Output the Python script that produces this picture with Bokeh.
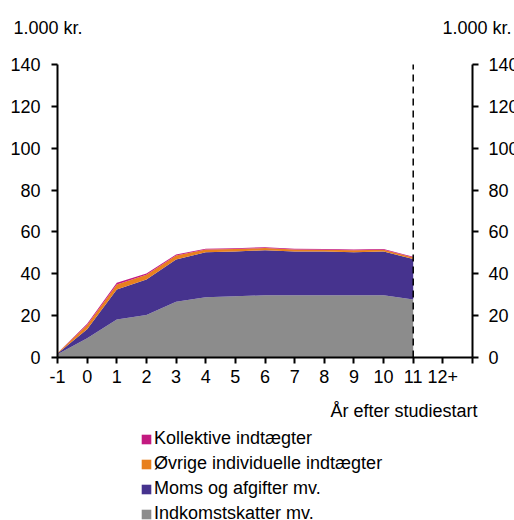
from bokeh.plotting import figure
from bokeh.models import (ColumnDataSource, FixedTicker, LinearAxis, Range1d,
                          Label, Legend, LegendItem)
from bokeh.embed import file_html
from bokeh.resources import INLINE

# ---- data ----
years = [-1, 0, 1, 2, 3, 4, 5, 6, 7, 8, 9, 10, 11]
x_ticks = list(range(-1, 14))
x_tick_labels = ["-1", "0", "1", "2", "3", "4", "5", "6", "7", "8", "9", "10", "11", "12+", ""]
y_ticks = [0, 20, 40, 60, 80, 100, 120, 140]
indkomst = [1.5, 9.2, 18.2, 20.3, 26.6, 28.8, 29.3, 29.7, 29.7, 29.8, 29.7, 29.7, 27.7]
moms = [0.4, 4.3, 14.3, 17.0, 20.2, 21.5, 21.3, 21.6, 20.9, 20.8, 20.6, 20.9, 19.4]
oevrige = [0.2, 2.0, 2.4, 2.2, 1.9, 1.3, 1.2, 1.0, 1.0, 0.9, 0.9, 0.9, 0.7]
kollektive = [0.1, 0.6, 0.8, 0.6, 0.5, 0.4, 0.4, 0.4, 0.4, 0.4, 0.4, 0.4, 0.3]
series_names = ["Indkomstskatter mv.", "Moms og afgifter mv.",
                "Øvrige individuelle indtægter", "Kollektive indtægter"]
colors = ["#8c8c8c", "#46338e", "#e8801e", "#c31a80"]
unit_label = "1.000 kr."
x_title = "År efter studiestart"
marker_year = 11

FONT = "Liberation Sans"
FS = "18px"
W, H = 514, 520
# plot area in pixels (canvas coords)
FX0, FX1, FY0, FY1 = 57, 472, 64, 357
xpx = (FX1 - FX0) / 14.0
ypx = (FY1 - FY0) / 140.0

source = ColumnDataSource(dict(x=years, s0=indkomst, s1=moms, s2=oevrige, s3=kollektive))

p = figure(width=W, height=H, output_backend="svg", toolbar_location=None,
           x_range=Range1d(-1 - FX0 / xpx, 13 + (W - FX1) / xpx),
           y_range=Range1d(-(H - FY1) / ypx, 140 + FY0 / ypx),
           min_border=0)
p.outline_line_color = None
p.grid.visible = False
p.background_fill_color = "white"
p.border_fill_color = "white"

renderers = p.varea_stack(["s0", "s1", "s2", "s3"], x="x", source=source,
                          color=colors)

# dashed marker line at the end of the period
p.segment(x0=[marker_year], y0=[0], x1=[marker_year], y1=[140],
          line_color="black", line_width=1.5, line_dash="7 5")

# axes
xa = p.xaxis[0]
xa.ticker = FixedTicker(ticks=x_ticks)
xa.major_label_overrides = {t: lab for t, lab in zip(x_ticks, x_tick_labels)}
xa.fixed_location = 0
xa.bounds = (-1, 13)
ya = p.yaxis[0]
ya.ticker = FixedTicker(ticks=y_ticks)
ya.fixed_location = -1
ya.bounds = (0, 140)
ra = LinearAxis(ticker=FixedTicker(ticks=y_ticks), fixed_location=13, bounds=(0, 140))
p.add_layout(ra, "right")

for ax in (xa, ya, ra):
    ax.axis_line_width = 2
    ax.axis_line_color = "black"
    ax.major_tick_line_width = 2
    ax.major_tick_line_color = "black"
    ax.major_tick_out = 6
    ax.major_tick_in = 0
    ax.minor_tick_out = 0
    ax.minor_tick_in = 0
    ax.major_label_text_font = FONT
    ax.major_label_text_font_size = FS
    ax.major_label_text_color = "black"
xa.major_label_standoff = 6
ya.major_label_standoff = 11
ra.major_label_standoff = 10

# unit labels and axis title
p.add_layout(Label(x=-1, y=140, x_offset=-44, y_offset=37, text=unit_label,
                   text_font=FONT, text_font_size=FS, text_baseline="middle",
                   text_align="left", text_color="black"))
p.add_layout(Label(x=13, y=140, x_offset=39, y_offset=37, text=unit_label,
                   text_font=FONT, text_font_size=FS, text_baseline="middle",
                   text_align="right", text_color="black"))
p.add_layout(Label(x=13, y=0, x_offset=5, y_offset=-53, text=x_title,
                   text_font=FONT, text_font_size=FS, text_baseline="middle",
                   text_align="right", text_color="black"))

items = [LegendItem(label=series_names[i], renderers=[renderers[i]]) for i in (3, 2, 1, 0)]
legend = Legend(items=items, location=(140, -6), orientation="vertical",
                glyph_width=12, glyph_height=12, label_height=25, spacing=0,
                label_standoff=2, padding=0, margin=0, border_line_color=None,
                background_fill_alpha=0, label_text_font=FONT,
                label_text_font_size=FS, label_text_color="black")
p.add_layout(legend, "center")

open("out.html", "w").write(file_html(p, INLINE))
